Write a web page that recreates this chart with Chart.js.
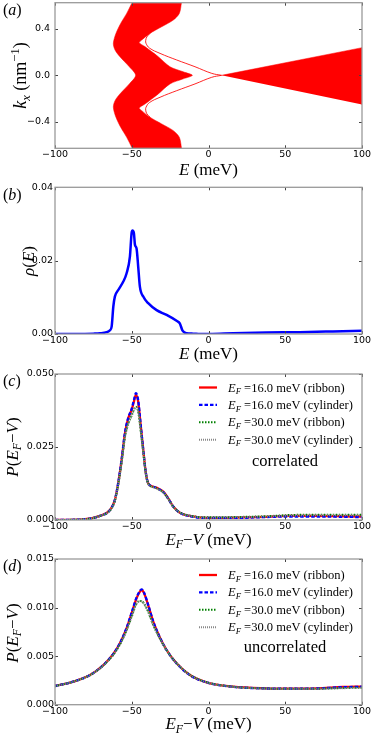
<!DOCTYPE html>
<html>
<head>
<meta charset="utf-8">
<script src="https://cdn.jsdelivr.net/npm/chart.js@4.4.1/dist/chart.umd.min.js"></script>
<style>
  html, body { margin: 0; padding: 0; background: #fff; }
  #wrap { position: relative; width: 374px; height: 738px; overflow: hidden; }
  canvas { position: absolute; left: 0; }
</style>
</head>
<body>
<div id="wrap">
  <canvas id="pa" width="374" height="184" style="top:0px"></canvas>
  <canvas id="pb" width="374" height="184" style="top:180px"></canvas>
  <canvas id="pc" width="374" height="192" style="top:360px"></canvas>
  <canvas id="pd" width="374" height="188" style="top:550px"></canvas>
</div>
<script>
// ---- data ----
const xTicks = [-100, -50, 0, 50, 100];

// (a) band structure, E (meV) vs k_x (nm^-1)
const bandLeftK  = [0.66, 0.625, 0.533, 0.447, 0.361, 0.275, 0.218, 0.16, 0.074, 0, -0.074, -0.16, -0.218, -0.275, -0.361, -0.447, -0.533, -0.625, -0.66];
const bandLeftE  = [-48.5, -49.8, -53.3, -57.2, -60.3, -62.0, -60.9, -57.7, -51.6, -47.5, -51.6, -57.7, -60.9, -62.0, -60.3, -57.2, -53.3, -49.8, -48.5];
const bandRightK = [-0.66, -0.625, -0.533, -0.476, -0.418, -0.361, -0.304, -0.281, -0.247, -0.16, -0.074, -0.03, 0, 0.03, 0.074, 0.16, 0.247, 0.281, 0.304, 0.361, 0.418, 0.476, 0.533, 0.625, 0.66];
const bandRightE = [-17.2, -17.6, -19.0, -22.9, -30.5, -38.1, -43.5, -45.1, -41.4, -32.7, -25.1, -16.4, -10.5, -16.4, -25.1, -32.7, -41.4, -45.1, -43.5, -38.1, -30.5, -22.9, -19.0, -17.6, -17.2];
const condE = [8.5, 100, 100];
const condK = [0, 0.238, -0.25];
const surfE     = [-38.1, -40.2, -40.9, -40.7, -38.5, -31.6, -20.7, -8.8, 2.1, 8.5];
const surfKUp   = [0.361, 0.33, 0.30, 0.275, 0.235, 0.189, 0.132, 0.074, 0.017, 0];
const surfKDown = [-0.361, -0.33, -0.30, -0.275, -0.235, -0.189, -0.132, -0.074, -0.017, 0];
const aTicks = [-0.4, 0, 0.4];

// (b) density of states
const rhoE = [-100, -85, -75, -70.7, -66.4, -64.2, -63.1, -62, -61, -58.8, -55.5, -53.4, -51.2, -50.1, -49.5, -48.6, -47.9, -46.9, -45.8, -44.7, -42.5, -39.3, -33.8, -27.3, -20.8, -18.7, -16.9, -14.3, -10, -5.6, 0.9, 16, 37.7, 59.4, 81, 100];
const rho  = [0, 0, 0.0001, 0.0002, 0.0005, 0.001, 0.002, 0.0075, 0.0102, 0.012, 0.0143, 0.0165, 0.0211, 0.0275, 0.0282, 0.0275, 0.0243, 0.0234, 0.0184, 0.0129, 0.0102, 0.0084, 0.0065, 0.0052, 0.0036, 0.0029, 0.0009, 0.0002, 0.0001, 0, 0, 0.0002, 0.0004, 0.0005, 0.0007, 0.0009];
const bTicks = [0, 0.02, 0.04];

// legend entries for (c) and (d)
const efValues = [16.0, 16.0, 30.0, 30.0];
const geometries = ['ribbon', 'cylinder', 'ribbon', 'cylinder'];

// (c) correlated
const cE = [-100, -81.6, -70.7, -64.2, -61, -58.8, -56.6, -54.4, -52.3, -50.1, -48.6, -47.3, -45.8, -44.3, -42.5, -40.8, -39.3, -36, -32.8, -29.5, -26.2, -23, -18.7, -12.1, -1.3, 16, 37.7, 52.9, 70.3, 85, 100];
const cRibbon16 = [0, 0.0002, 0.0014, 0.0034, 0.0068, 0.0126, 0.0205, 0.0297, 0.0348, 0.0377, 0.0405, 0.0428, 0.0405, 0.0331, 0.024, 0.016, 0.0126, 0.0114, 0.0108, 0.0097, 0.0074, 0.0046, 0.0025, 0.0014, 0.0007, 0.0008, 0.0011, 0.0014, 0.0014, 0.0013, 0.0012];
const cCyl16    = [0, 0.0002, 0.0014, 0.0034, 0.0069, 0.0128, 0.0208, 0.0300, 0.0350, 0.0380, 0.0410, 0.0434, 0.0410, 0.0333, 0.0240, 0.0160, 0.0126, 0.0114, 0.0107, 0.0096, 0.0073, 0.0046, 0.0025, 0.0013, 0.0007, 0.0007, 0.0010, 0.0012, 0.0012, 0.0011, 0.0010];
const cRibbon30 = [0, 0.0002, 0.0014, 0.0033, 0.0066, 0.0122, 0.0198, 0.0285, 0.0330, 0.0358, 0.0378, 0.0388, 0.0372, 0.0312, 0.0232, 0.0158, 0.0125, 0.0113, 0.0106, 0.0095, 0.0073, 0.0046, 0.0026, 0.0015, 0.0009, 0.0010, 0.0013, 0.0017, 0.0018, 0.0018, 0.0018];
const cCyl30    = [0, 0.0002, 0.0014, 0.0033, 0.0066, 0.0121, 0.0197, 0.0284, 0.0329, 0.0356, 0.0376, 0.0385, 0.0370, 0.0310, 0.0231, 0.0157, 0.0124, 0.0112, 0.0105, 0.0094, 0.0072, 0.0045, 0.0025, 0.0014, 0.0008, 0.0009, 0.0012, 0.0015, 0.0016, 0.0016, 0.0016];
const cTicks = [0, 0.025, 0.05];

// (d) uncorrelated
const dE = [-100, -88.1, -77.2, -68.5, -62, -57.7, -53.4, -50.1, -46.9, -44.7, -43.6, -42.1, -39.3, -36, -31.7, -27.3, -20.8, -12.1, -1.3, 16, 37.7, 52.9, 70.3, 87.6, 100];
const dRibbon16 = [0.00192, 0.00237, 0.00305, 0.00408, 0.00522, 0.00632, 0.00786, 0.0094, 0.01095, 0.01164, 0.01181, 0.01153, 0.01026, 0.00855, 0.00693, 0.00563, 0.00426, 0.00305, 0.0023, 0.00185, 0.00168, 0.00165, 0.00168, 0.00182, 0.00187];
const dCyl16    = [0.00192, 0.00237, 0.00305, 0.00408, 0.00523, 0.00634, 0.0079, 0.00946, 0.01102, 0.01172, 0.01188, 0.01158, 0.01028, 0.00856, 0.00692, 0.00562, 0.00425, 0.00304, 0.0023, 0.00184, 0.00167, 0.00164, 0.00167, 0.0018, 0.00185];
const dRibbon30 = [0.00192, 0.00237, 0.00305, 0.00405, 0.00515, 0.0062, 0.00765, 0.00906, 0.01043, 0.01068, 0.01066, 0.01045, 0.00958, 0.0082, 0.00683, 0.0056, 0.00428, 0.00308, 0.00232, 0.00185, 0.00167, 0.00163, 0.00164, 0.00172, 0.00175];
const dCyl30    = [0.00191, 0.00236, 0.00304, 0.00404, 0.00514, 0.00618, 0.00762, 0.00902, 0.01038, 0.01064, 0.01062, 0.0104, 0.00955, 0.00818, 0.00681, 0.00558, 0.00426, 0.00306, 0.0023, 0.00184, 0.00166, 0.00162, 0.00163, 0.0017, 0.00173];
const dTicks = [0, 0.005, 0.01, 0.015];

// ---- helpers ----
const SERIF = '"Liberation Serif", "DejaVu Serif", serif';
const SANS = '"DejaVu Sans", sans-serif';

const pts = (xs, ys) => xs.map((x, i) => ({x: x, y: ys[i]}));
const minus = s => String(s).replace('-', '\u2212');

function partFont(p, size) {
  const small = p[1].includes('s') || p[1].includes('p');
  return (p[1].includes('i') ? 'italic ' : '') + (small ? size * 0.7 : size) + 'px ' + SERIF;
}

// draw text made of parts: [text, flags] with i=italic, s=subscript, p=superscript
function drawRich(ctx, parts, x, y, size, align, rot) {
  ctx.save();
  ctx.translate(x, y);
  if (rot) ctx.rotate(rot);
  ctx.textBaseline = 'alphabetic';
  ctx.textAlign = 'left';
  ctx.fillStyle = '#000';
  let w = 0;
  for (const p of parts) { ctx.font = partFont(p, size); w += ctx.measureText(p[0]).width; }
  let cx = align === 'center' ? -w / 2 : 0;
  for (const p of parts) {
    ctx.font = partFont(p, size);
    const dy = p[1].includes('s') ? size * 0.22 : (p[1].includes('p') ? -size * 0.38 : 0);
    ctx.fillText(p[0], cx, dy);
    cx += ctx.measureText(p[0]).width;
  }
  ctx.restore();
}

const framePlugin = {
  id: 'frame',
  afterDatasetsDraw(chart) {
    const {ctx, chartArea: a, scales: {x, y}} = chart;
    ctx.save();
    ctx.strokeStyle = '#444';
    ctx.lineWidth = 1;
    ctx.beginPath();
    x.ticks.forEach(t => {
      const px = Math.round(x.getPixelForValue(t.value)) + 0.5;
      ctx.moveTo(px, a.top); ctx.lineTo(px, a.top + 3);
      ctx.moveTo(px, a.bottom); ctx.lineTo(px, a.bottom - 3);
    });
    y.ticks.forEach(t => {
      const py = Math.round(y.getPixelForValue(t.value)) + 0.5;
      ctx.moveTo(a.left, py); ctx.lineTo(a.left + 3, py);
      ctx.moveTo(a.right, py); ctx.lineTo(a.right - 3, py);
    });
    ctx.stroke();
    ctx.strokeStyle = '#9a9a9a';
    ctx.lineWidth = 1.3;
    ctx.strokeRect(a.left, a.top, a.right - a.left, a.bottom - a.top);
    ctx.restore();
  }
};

function textPlugin(items) {
  return {
    id: 'texts',
    afterDraw(chart) {
      items.forEach(it => drawRich(chart.ctx, it.parts, it.x, it.y, it.size, it.align, it.rot));
    }
  };
}

function legendPlugin(ys, note, noteY) {
  return {
    id: 'efLegend',
    afterDraw(chart) {
      const ctx = chart.ctx;
      chart.data.datasets.forEach((ds, i) => {
        ctx.save();
        ctx.strokeStyle = ds.borderColor;
        ctx.lineWidth = ds.borderWidth;
        ctx.setLineDash(ds.borderDash || []);
        ctx.beginPath();
        ctx.moveTo(199, ys[i]);
        ctx.lineTo(217, ys[i]);
        ctx.stroke();
        ctx.restore();
        drawRich(ctx, [['E', 'i'], ['F', 'is'], [' =' + efValues[i].toFixed(1) + ' meV (' + geometries[i] + ')', '']],
          228, ys[i] + 4, 12.5, 'left');
      });
      drawRich(ctx, [[note, '']], 285, noteY, 16.5, 'center');
    }
  };
}

function makeChart(id, p) {
  return new Chart(document.getElementById(id), {
    type: 'line',
    data: {datasets: p.datasets},
    options: {
      responsive: false,
      animation: false,
      devicePixelRatio: 1,
      events: [],
      layout: {padding: {top: p.plotTop, right: 12, bottom: 0, left: 0}},
      plugins: {legend: {display: false}, tooltip: {enabled: false}},
      elements: {point: {radius: 0}},
      scales: {
        x: {
          type: 'linear', min: -100, max: 100,
          afterBuildTicks: s => { s.ticks = xTicks.map(v => ({value: v})); },
          afterFit: s => { s.height = p.H - p.plotBottom; s.paddingLeft = 0; s.paddingRight = 0; },
          ticks: {font: {family: SANS, size: 9.5}, color: '#000', padding: 1, maxRotation: 0, autoSkip: false, callback: v => minus(v)},
          grid: {display: false, drawTicks: false},
          border: {display: false}
        },
        y: {
          type: 'linear', min: p.yMin, max: p.yMax,
          afterBuildTicks: s => { s.ticks = p.yTicks.map(v => ({value: v})); },
          afterFit: s => { s.width = 55; s.paddingTop = 0; s.paddingBottom = 0; },
          ticks: {font: {family: SANS, size: 9.5}, color: '#000', padding: p.yPad, autoSkip: false, callback: v => minus(v.toFixed(p.digits))},
          grid: {display: false, drawTicks: false},
          border: {display: false}
        }
      }
    },
    plugins: [framePlugin, textPlugin(p.texts)].concat(p.extra || [])
  });
}

const H = -Math.PI / 2;
const EF_V = [['E', 'i'], ['F', 'is'], ['\u2212', ''], ['V', 'i'], [' (meV)', '']];
const P_EF_V = [['P', 'i'], ['(', ''], ['E', 'i'], ['F', 'is'], ['\u2212', ''], ['V', 'i'], [')', '']];

// ---- (a) ----
makeChart('pa', {
  H: 184, plotTop: 2.7, plotBottom: 148.3, yMin: -0.628, yMax: 0.625, yTicks: aTicks, digits: 1, yPad: 5,
  datasets: [
    {data: pts(bandLeftE, bandLeftK).concat(pts(bandRightE, bandRightK)), fill: 'shape', tension: 0.3,
     borderColor: '#ff0000', backgroundColor: '#ff0000', borderWidth: 0.5},
    {data: pts(condE, condK), fill: 'shape', tension: 0,
     borderColor: '#ff0000', backgroundColor: '#ff0000', borderWidth: 0.5},
    {data: pts(surfE, surfKUp), tension: 0.4, borderColor: 'rgba(255,0,0,0.85)', borderWidth: 1},
    {data: pts(surfE, surfKDown), tension: 0.4, borderColor: 'rgba(255,0,0,0.85)', borderWidth: 1}
  ],
  texts: [
    {parts: [['(', ''], ['a', 'i'], [')', '']], x: 3, y: 15, size: 16},
    {parts: [['E', 'i'], [' (meV)', '']], x: 208.5, y: 175, size: 17, align: 'center'},
    {parts: [['k', 'i'], ['x', 'is'], [' (nm', ''], ['\u22121', 'p'], [')', '']], x: 26, y: 75.5, size: 18, align: 'center', rot: H}
  ]
});

// ---- (b) ----
makeChart('pb', {
  H: 184, plotTop: 7.3, plotBottom: 154, yMin: 0, yMax: 0.04, yTicks: bTicks, digits: 2, yPad: 2,
  datasets: [
    {data: pts(rhoE, rho), borderColor: '#0000ff', borderWidth: 2.5, cubicInterpolationMode: 'monotone'}
  ],
  texts: [
    {parts: [['(', ''], ['b', 'i'], [')', '']], x: 3, y: 20, size: 16},
    {parts: [['E', 'i'], [' (meV)', '']], x: 208.5, y: 179, size: 17, align: 'center'},
    {parts: [['\u03c1', 'i'], ['(', ''], ['E', 'i'], [')', '']], x: 34, y: 81, size: 17, align: 'center', rot: H}
  ]
});

function pSeries(E, r16, c16, r30, c30) {
  return [
    {data: pts(E, r16), borderColor: '#ff0000', borderWidth: 2.3, cubicInterpolationMode: 'monotone', order: 4},
    {data: pts(E, c16), borderColor: '#0000ff', borderWidth: 2.3, borderDash: [3.5, 2], cubicInterpolationMode: 'monotone', order: 3},
    {data: pts(E, r30), borderColor: '#008000', borderWidth: 2, borderDash: [1.5, 1.5], cubicInterpolationMode: 'monotone', order: 2},
    {data: pts(E, c30), borderColor: '#888888', borderWidth: 2, borderDash: [1, 1], cubicInterpolationMode: 'monotone', order: 1}
  ];
}

// ---- (c) ----
makeChart('pc', {
  H: 192, plotTop: 14, plotBottom: 160, yMin: 0, yMax: 0.05, yTicks: cTicks, digits: 3, yPad: 1,
  datasets: pSeries(cE, cRibbon16, cCyl16, cRibbon30, cCyl30),
  texts: [
    {parts: [['(', ''], ['c', 'i'], [')', '']], x: 3, y: 26, size: 16},
    {parts: EF_V, x: 208.5, y: 184.5, size: 17, align: 'center'},
    {parts: P_EF_V, x: 17.5, y: 87, size: 17, align: 'center', rot: H}
  ],
  extra: [legendPlugin([27.5, 44.9, 62.3, 79.7], 'correlated', 106)]
});

// ---- (d) ----
makeChart('pd', {
  H: 188, plotTop: 9, plotBottom: 154.7, yMin: 0, yMax: 0.015, yTicks: dTicks, digits: 3, yPad: 1,
  datasets: pSeries(dE, dRibbon16, dCyl16, dRibbon30, dCyl30),
  texts: [
    {parts: [['(', ''], ['d', 'i'], [')', '']], x: 3, y: 21, size: 16},
    {parts: EF_V, x: 208.5, y: 179, size: 17, align: 'center'},
    {parts: P_EF_V, x: 17.5, y: 83, size: 17, align: 'center', rot: H}
  ],
  extra: [legendPlugin([25, 42.4, 59.8, 77.2], 'uncorrelated', 101.5)]
});
</script>
</body>
</html>
